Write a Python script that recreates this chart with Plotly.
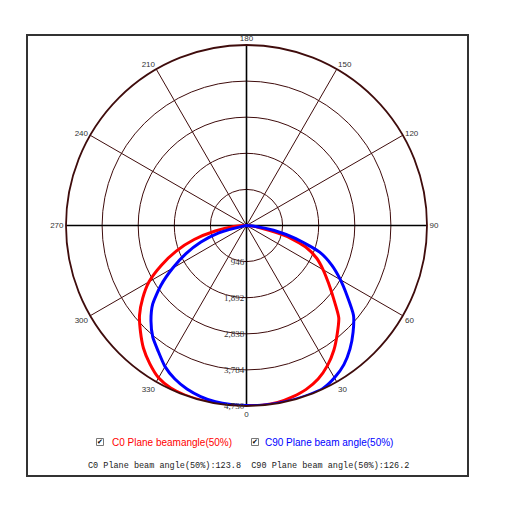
import plotly.graph_objects as go

# ---- data ----
angles = [-90, -85, -80, -75, -70, -65, -60, -55, -50, -45, -40, -35, -30, -25, -20, -15, -10, -5,
          0, 5, 10, 15, 20, 25, 30, 35, 40, 45, 50, 55, 60, 65, 70, 75, 80, 85, 90]
c0_values = [0, 330, 830, 1420, 1960, 2460, 2950, 3320, 3660, 3930, 4200, 4420, 4610, 4700, 4730, 4730, 4730, 4730,
             4720, 4725, 4710, 4650, 4570, 4440, 4240, 3990, 3700, 3420, 2980, 2620, 2320, 2030, 1650, 1060, 380, 110, 0]
c90_values = [0, 0, 60, 750, 1270, 1750, 2230, 2740, 3210, 3540, 3820, 4030, 4270, 4440, 4560, 4640, 4690, 4710,
              4720, 4730, 4730, 4730, 4730, 4720, 4610, 4450, 4220, 3950, 3660, 3220, 2840, 2470, 2040, 1340, 720, 200, 0]
radial_ticks = [946, 1892, 2838, 3784, 4730]
angle_ticks = [0, 30, 60, 90, 120, 150, 180, 210, 240, 270, 300, 330]
c0_name = "C0 Plane beamangle(50%)"
c90_name = "C90 Plane beam angle(50%)"
summary = "C0 Plane beam angle(50%):123.8  C90 Plane beam angle(50%):126.2"

# page body has an 8px margin; the figure is sized to fit inside the window
OFF = 8
W = H = 491

rmax = radial_ticks[-1]
grid_col = "#3f0c0c"

fig = go.Figure()
# black main axes (0-180 and 90-270)
fig.add_trace(go.Scatterpolar(r=[rmax, 0, rmax], theta=[180, 0, 0], mode="lines",
                              line=dict(color="#000000", width=1.6), hoverinfo="skip", showlegend=False))
fig.add_trace(go.Scatterpolar(r=[rmax, 0, rmax], theta=[90, 0, 270], mode="lines",
                              line=dict(color="#000000", width=1.6), hoverinfo="skip", showlegend=False))
fig.add_trace(go.Scatterpolar(r=c0_values, theta=angles, mode="lines", name=c0_name,
                              line=dict(color="#ff0000", width=3, shape="spline", smoothing=0.6), showlegend=False))
fig.add_trace(go.Scatterpolar(r=c90_values, theta=angles, mode="lines", name=c90_name,
                              line=dict(color="#0000ff", width=3, shape="spline", smoothing=0.6), showlegend=False))


def px(x, y):
    """screen pixel -> paper fraction"""
    return (x - OFF) / W, 1 - (y - OFF) / H


cx, cy, R = 246.5, 225.5, 180.5
x0, y1 = px(cx - R, cy - R)
x1, y0 = px(cx + R, cy + R)
fig.update_layout(
    width=W, height=H, margin=dict(l=0, r=0, t=0, b=0),
    paper_bgcolor="white", plot_bgcolor="white",
    polar=dict(
        domain=dict(x=[x0, x1], y=[y0, y1]),
        bgcolor="white",
        angularaxis=dict(rotation=270, direction="counterclockwise",
                         tickmode="array", tickvals=angle_ticks, ticktext=[str(a) for a in angle_ticks],
                         showgrid=True, gridcolor=grid_col, gridwidth=1.4,
                         showline=True, linecolor=grid_col, linewidth=1.8,
                         ticks="", tickfont=dict(family="Liberation Sans", size=8, color="#333333")),
        radialaxis=dict(range=[0, rmax], angle=270, tickangle=-90, tickmode="array", tickvals=radial_ticks,
                        ticktext=[f"{v:,}" for v in radial_ticks],
                        showgrid=True, gridcolor=grid_col, gridwidth=1.4,
                        showline=False, ticks="", side="clockwise",
                        tickfont=dict(family="Liberation Serif", size=9, color="#333333")),
    ),
    showlegend=False,
)

# frame
fx0, fy1 = px(27, 35)
fx1, fy0 = px(468, 476)
fig.add_shape(type="rect", xref="paper", yref="paper", x0=fx0, x1=fx1, y0=fy0, y1=fy1,
              line=dict(color="#333333", width=2))

# legend-like labels with checkboxes
ly = 442
for bx, tx, txt, col in [(100, 110, c0_name, "#ff0000"), (255, 263, c90_name, "#0000ff")]:
    bx0, by1 = px(bx - 3.5, ly - 3.5)
    bx1, by0 = px(bx + 3.5, ly + 3.5)
    fig.add_shape(type="rect", xref="paper", yref="paper", x0=bx0, x1=bx1, y0=by0, y1=by1,
                  line=dict(color="#777777", width=1))
    x, y = px(bx, ly)
    fig.add_annotation(x=x, y=y, xref="paper", yref="paper", text="✔", showarrow=False,
                       font=dict(family="DejaVu Sans", size=7, color="#000000"), xanchor="center", yanchor="middle")
    x, y = px(tx, ly)
    fig.add_annotation(x=x, y=y, xref="paper", yref="paper", text=txt, showarrow=False,
                       font=dict(family="Liberation Sans", size=10, color=col), xanchor="left", yanchor="middle")

x, y = px(86, 466)
fig.add_annotation(x=x, y=y, xref="paper", yref="paper", text=summary, showarrow=False,
                   font=dict(family="Liberation Mono", size=8.5, color="#222222"), xanchor="left", yanchor="middle")

fig.write_html("out.html")
